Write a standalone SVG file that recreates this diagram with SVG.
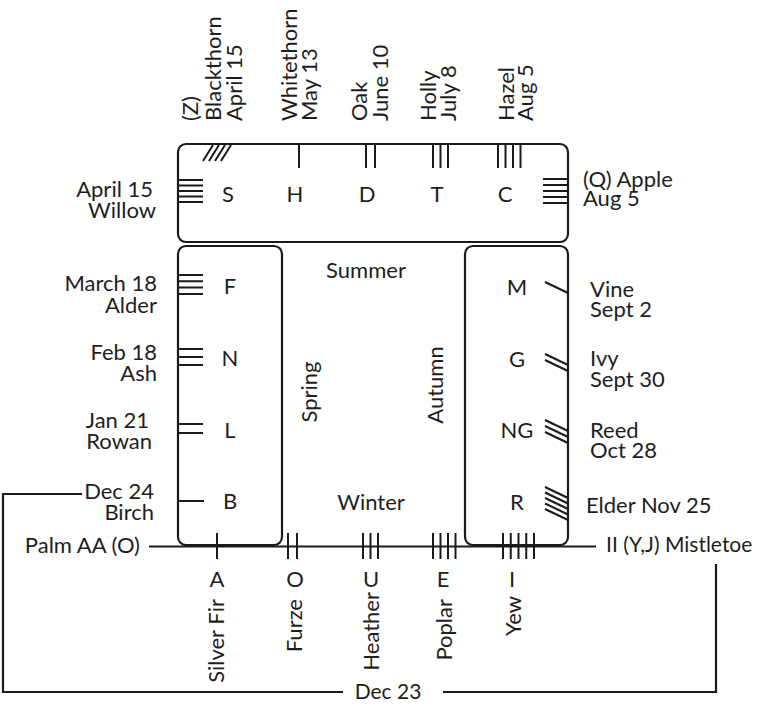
<svg xmlns="http://www.w3.org/2000/svg" width="759" height="708" viewBox="0 0 759 708">
<style>
  text { font-family: Lato, "Open Sans", "Liberation Sans", sans-serif; fill: #1e1e1e; font-size: 22px; }
  .ltr { font-size: 22px; text-anchor: middle; }
  .end { text-anchor: end; }
  .mid { text-anchor: middle; }
  .box { fill: none; stroke: #1a1a1a; stroke-width: 2.2; }
  .tk { stroke: #1a1a1a; stroke-width: 2; fill: none; }
  .ln { stroke: #1a1a1a; stroke-width: 2.2; fill: none; }
</style>
<rect width="759" height="708" fill="#fff"/>

<g id="frame">
  <rect id="box-top" class="box" x="178" y="144" width="390" height="98" rx="8"/>
  <rect id="box-left" class="box" x="178" y="246" width="104" height="299" rx="8"/>
  <rect id="box-right" class="box" x="465" y="246" width="103" height="299" rx="8"/>
</g>

<g id="connectors">
  <line class="ln" x1="149" y1="546.5" x2="596" y2="546.5" stroke-width="2.6"/>
  <polyline class="ln" points="82,494 3,494 3,692 343,692"/>
  <polyline class="ln" points="443,692 716,692 716,564"/>
</g>

<g id="seasons">
  <text class="mid" x="366" y="278">Summer</text>
  <text class="mid" x="371" y="510">Winter</text>
  <text class="mid" transform="translate(317,392) rotate(-90)">Spring</text>
  <text class="mid" transform="translate(443,385) rotate(-90)">Autumn</text>
</g>

<!-- Top row -->
<g id="node-S">
  <path class="tk" d="M203,161 L213,145 M209,161 L219,145 M215,161 L225,145 M221,161 L231,145"/>
  <path class="tk" d="M178,180 H203 M178,185.5 H203 M178,191 H203 M178,196.5 H203 M178,202 H203"/>
  <text class="ltr" x="228" y="202">S</text>
  <text transform="translate(198,121) rotate(-90)">(Z)</text>
  <text transform="translate(221,121) rotate(-90)">Blackthorn</text>
  <text transform="translate(242,121) rotate(-90)">April 15</text>
  <text class="end" x="153" y="197">April 15</text>
  <text class="end" x="156" y="218">Willow</text>
</g>
<g id="node-H">
  <path class="tk" d="M299,144 V168"/>
  <text class="ltr" x="295" y="202">H</text>
  <text transform="translate(297,121) rotate(-90)">Whitethorn</text>
  <text transform="translate(317,121) rotate(-90)">May 13</text>
</g>
<g id="node-D">
  <path class="tk" d="M366,144 V168 M375,144 V168"/>
  <text class="ltr" x="367" y="202">D</text>
  <text transform="translate(367,121) rotate(-90)">Oak</text>
  <text transform="translate(388,121) rotate(-90)">June 10</text>
</g>
<g id="node-T">
  <path class="tk" d="M433,144 V168 M440.5,144 V168 M448,144 V168"/>
  <text class="ltr" x="437" y="202">T</text>
  <text transform="translate(436,121) rotate(-90)">Holly</text>
  <text transform="translate(456,121) rotate(-90)">July 8</text>
</g>
<g id="node-C">
  <path class="tk" d="M498,144 V168 M505.5,144 V168 M513,144 V168 M520.5,144 V168"/>
  <path class="tk" d="M543,179 H568 M543,185 H568 M543,191 H568 M543,197 H568 M543,203 H568"/>
  <text class="ltr" x="505" y="202">C</text>
  <text transform="translate(514,121) rotate(-90)">Hazel</text>
  <text transform="translate(533,121) rotate(-90)">Aug 5</text>
  <text x="583" y="187">(Q) Apple</text>
  <text x="583" y="206">Aug 5</text>
</g>

<!-- Left column -->
<g id="node-F">
  <path class="tk" d="M178,275 H203 M178,281.3 H203 M178,287.6 H203 M178,294 H203"/>
  <text class="ltr" x="230" y="294">F</text>
  <text class="end" x="157" y="291">March 18</text>
  <text class="end" x="157" y="313">Alder</text>
</g>
<g id="node-N">
  <path class="tk" d="M178,349 H203 M178,357 H203 M178,365 H203"/>
  <text class="ltr" x="230" y="366">N</text>
  <text class="end" x="157" y="360">Feb 18</text>
  <text class="end" x="157" y="381">Ash</text>
</g>
<g id="node-L">
  <path class="tk" d="M178,424 H203 M178,433 H203"/>
  <text class="ltr" x="230" y="438">L</text>
  <text class="end" x="149" y="428">Jan 21</text>
  <text class="end" x="152" y="449">Rowan</text>
</g>
<g id="node-B">
  <path class="tk" d="M178,501 H204"/>
  <text class="ltr" x="230" y="509">B</text>
  <text class="end" x="154" y="499">Dec 24</text>
  <text class="end" x="154" y="520">Birch</text>
</g>

<!-- Right column -->
<g id="node-M">
  <path class="tk" d="M545,282 L568,293"/>
  <text class="ltr" x="517" y="295">M</text>
  <text x="590" y="297">Vine</text>
  <text x="590" y="317">Sept 2</text>
</g>
<g id="node-G">
  <path class="tk" d="M545,354 L568,365 M545,360 L568,371"/>
  <text class="ltr" x="517" y="367">G</text>
  <text x="590" y="366">Ivy</text>
  <text x="590" y="387">Sept 30</text>
</g>
<g id="node-NG">
  <path class="tk" d="M545,420 L568,431 M545,426 L568,437 M545,432 L568,443"/>
  <text class="ltr" x="517" y="438">NG</text>
  <text x="590" y="438">Reed</text>
  <text x="590" y="458">Oct 28</text>
</g>
<g id="node-R">
  <path class="tk" d="M545,487 L568,498 M545,492.5 L568,503.5 M545,498 L568,509 M545,503.5 L568,514.5 M545,509 L568,520"/>
  <text class="ltr" x="517" y="510">R</text>
  <text x="586" y="513">Elder Nov 25</text>
</g>

<!-- Bottom row -->
<g id="node-AA">
  <text class="end" x="140" y="553">Palm AA (O)</text>
</g>
<g id="node-A">
  <path class="tk" d="M217,533 V559"/>
  <text class="ltr" x="217" y="587">A</text>
  <text class="end" transform="translate(224,599) rotate(-90)">Silver Fir</text>
</g>
<g id="node-O">
  <path class="tk" d="M288,533 V559 M297,533 V559"/>
  <text class="ltr" x="295" y="587">O</text>
  <text class="end" transform="translate(302,599) rotate(-90)">Furze</text>
</g>
<g id="node-U">
  <path class="tk" d="M363,533 V559 M370.5,533 V559 M378,533 V559"/>
  <text class="ltr" x="371" y="587">U</text>
  <text class="end" transform="translate(379,592) rotate(-90)">Heather</text>
</g>
<g id="node-E">
  <path class="tk" d="M433,533 V559 M440.5,533 V559 M448,533 V559 M455.5,533 V559"/>
  <text class="ltr" x="443" y="587">E</text>
  <text class="end" transform="translate(452,599) rotate(-90)">Poplar</text>
</g>
<g id="node-I">
  <path class="tk" d="M503,533 V559 M510.75,533 V559 M518.5,533 V559 M526.25,533 V559 M534,533 V559"/>
  <text class="ltr" x="512" y="587">I</text>
  <text class="end" transform="translate(521,596) rotate(-90)">Yew</text>
</g>
<g id="node-YJ">
  <text x="606" y="552" style="font-size:21px">II (Y,J) Mistletoe</text>
</g>
<g id="node-dec23">
  <text class="mid" x="388" y="699" style="font-size:21px">Dec 23</text>
</g>
</svg>
